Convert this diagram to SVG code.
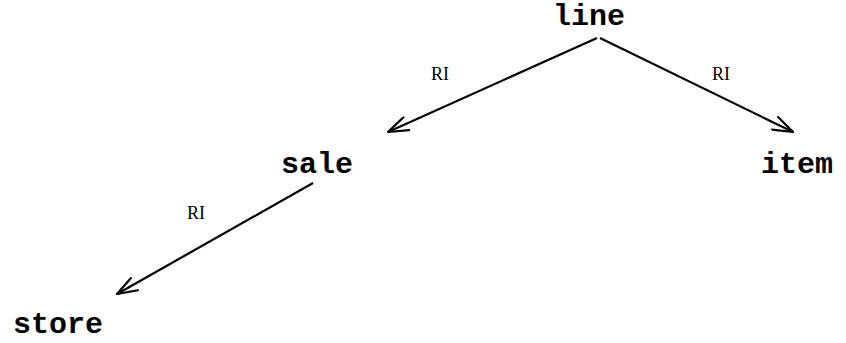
<svg xmlns="http://www.w3.org/2000/svg" width="846" height="343" viewBox="0 0 846 343">
<defs>
<marker id="ah" markerWidth="24" markerHeight="16" refX="22" refY="8" orient="auto" markerUnits="userSpaceOnUse">
<path d="M2,1 L22,8 L2,15" fill="none" stroke="#000" stroke-width="2.2" stroke-linecap="round" stroke-linejoin="round"/>
</marker>
<style>
.node{font-family:"Liberation Mono","Courier New",monospace;font-weight:bold;font-size:30px;fill:#000;text-anchor:middle}
.lbl{font-family:"Liberation Serif","Times New Roman",serif;font-size:18px;fill:#000;text-anchor:middle}
.edge{stroke:#000;stroke-width:2.2;fill:none;marker-end:url(#ah)}
</style>
</defs>
<rect width="846" height="343" fill="#fff"/>
<g id="connectors">
<line class="edge" x1="597" y1="38" x2="388" y2="132"/>
<line class="edge" x1="600" y1="38" x2="793" y2="132"/>
<line class="edge" x1="313" y1="183" x2="117" y2="294"/>
<text class="lbl" x="440" y="80">RI</text>
<text class="lbl" x="721" y="80">RI</text>
<text class="lbl" x="196" y="219">RI</text>
</g>
<g id="line"><text class="node" x="589" y="25">line</text></g>
<g id="sale"><text class="node" x="317" y="173">sale</text></g>
<g id="item"><text class="node" x="797" y="173">item</text></g>
<g id="store"><text class="node" x="58" y="333">store</text></g>
</svg>
